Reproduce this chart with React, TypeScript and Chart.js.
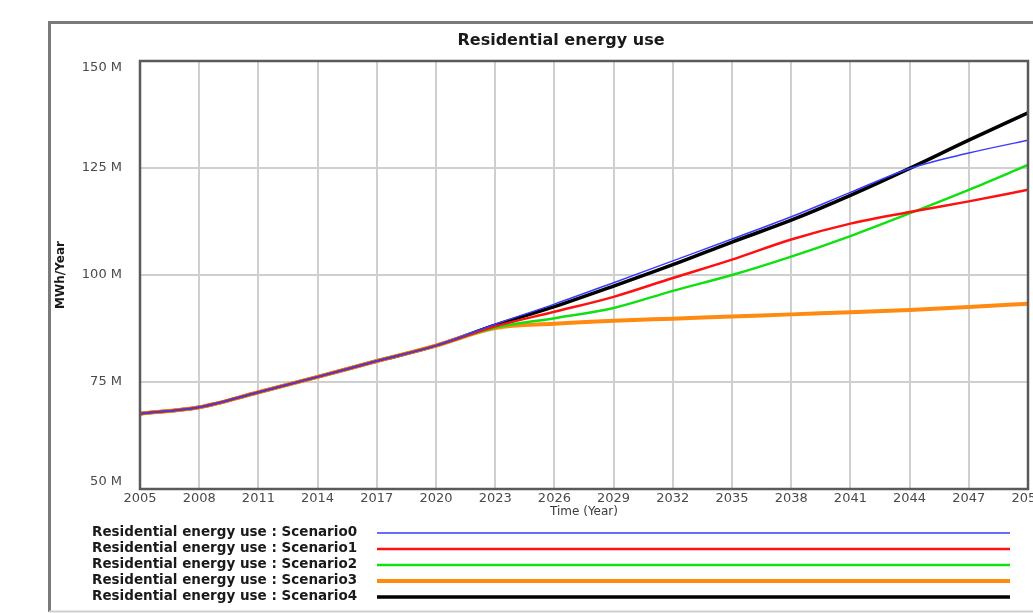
import React, { useEffect, useRef } from "react";
import { Chart, registerables } from "chart.js";

Chart.register(...registerables);

const title = "Residential energy use";
const yAxisTitle = "MWh/Year";
const xAxisTitle = "Time (Year)";
const years = [2005, 2008, 2011, 2014, 2017, 2020, 2023, 2026, 2029, 2032, 2035, 2038, 2041, 2044, 2047, 2050];
const scenario0 = [67.6, 69.1, 72.6, 76.2, 79.9, 83.5, 88.5, 93.2, 98.2, 103.3, 108.4, 113.6, 119.3, 124.9, 128.5, 131.5];
const scenario1 = [67.6, 69.1, 72.6, 76.2, 79.9, 83.5, 88.0, 91.4, 94.9, 99.3, 103.6, 108.3, 112.0, 114.7, 117.2, 119.9];
const scenario2 = [67.6, 69.1, 72.6, 76.2, 79.9, 83.5, 87.7, 89.9, 92.3, 96.3, 100.0, 104.3, 109.1, 114.4, 119.9, 125.7];
const scenario3 = [67.6, 69.1, 72.6, 76.2, 79.9, 83.5, 87.6, 88.6, 89.3, 89.8, 90.3, 90.8, 91.3, 91.8, 92.5, 93.3];
const scenario4 = [67.6, 69.1, 72.6, 76.2, 79.9, 83.5, 88.3, 92.6, 97.4, 102.4, 107.7, 112.8, 118.6, 124.9, 131.5, 137.9];
const seriesLabels = [
  "Residential energy use : Scenario0",
  "Residential energy use : Scenario1",
  "Residential energy use : Scenario2",
  "Residential energy use : Scenario3",
  "Residential energy use : Scenario4",
];
const seriesValues = [scenario0, scenario1, scenario2, scenario3, scenario4];
const seriesColors = ["#3a3aff", "#ff1010", "#10e010", "#ff8a10", "#000000"];
const seriesWidths = [1.5, 2.5, 2.5, 4, 3.5];
const yMin = 50;
const yMax = 150;
const yStep = 25;

const decor = {
  id: "decor",
  beforeDraw(chart: any) {
    const ctx = chart.ctx;
    ctx.save();
    ctx.fillStyle = "#ffffff";
    ctx.fillRect(0, 0, chart.width, chart.height);
    ctx.strokeStyle = "#7a7a7a";
    ctx.lineWidth = 3;
    ctx.beginPath();
    ctx.moveTo(49.5, 612);
    ctx.lineTo(49.5, 22.5);
    ctx.lineTo(1040, 22.5);
    ctx.stroke();
    ctx.strokeStyle = "#d0d0d0";
    ctx.lineWidth = 2;
    ctx.beginPath();
    ctx.moveTo(49, 611.5);
    ctx.lineTo(1040, 611.5);
    ctx.stroke();
    ctx.restore();
    // nudge the end y labels inward, as in the reference
    const ys = chart.scales.y;
    if (ys && !ys.__nudged) {
      const items = ys.getLabelItems(chart.chartArea);
      items.forEach((it: any) => {
        const lab = String(it.label);
        if (lab === yMax + " M") it.options.translation[1] += 7;
        if (lab === yMin + " M") it.options.translation[1] -= 7;
      });
      ys.__nudged = true;
    }
  },
  afterDatasetsDraw(chart: any) {
    const { ctx, chartArea } = chart;
    ctx.save();
    ctx.strokeStyle = "#5a5a5a";
    ctx.lineWidth = 2.5;
    ctx.strokeRect(chartArea.left, chartArea.top, chartArea.right - chartArea.left, chartArea.bottom - chartArea.top);
    ctx.restore();
  },
  afterDraw(chart: any) {
    const ctx = chart.ctx;
    ctx.save();
    ctx.fillStyle = "#1a1a1a";
    ctx.font = "bold 16px 'DejaVu Sans'";
    ctx.textAlign = "center";
    ctx.textBaseline = "middle";
    ctx.fillText(title, 561, 41);
    ctx.font = "bold 13.5px 'DejaVu Sans'";
    ctx.textAlign = "left";
    seriesLabels.forEach((lab, i) => {
      const y = 532.5 + i * 16;
      ctx.fillStyle = "#1a1a1a";
      ctx.fillText(lab, 92, y);
      ctx.strokeStyle = seriesColors[i];
      ctx.lineWidth = seriesWidths[i];
      ctx.beginPath();
      ctx.moveTo(377, y + 0.5);
      ctx.lineTo(1010, y + 0.5);
      ctx.stroke();
    });
    ctx.restore();
  },
};

export default function App() {
  const ref = useRef<HTMLCanvasElement | null>(null);
  useEffect(() => {
    if (!ref.current) return;
    const chart = new Chart(ref.current, {
      type: "line",
      data: {
        datasets: seriesValues.map((vals, i) => ({
          label: seriesLabels[i],
          data: years.map((yr, j) => ({ x: yr, y: vals[j] })),
          borderColor: seriesColors[i],
          backgroundColor: seriesColors[i],
          borderWidth: seriesWidths[i],
          pointRadius: 0,
          cubicInterpolationMode: "monotone" as const,
          fill: false,
        })),
      },
      options: {
        animation: false,
        responsive: false,
        devicePixelRatio: 1,
        layout: { padding: { left: 50, top: 61, right: 5, bottom: 94 } },
        plugins: { legend: { display: false }, title: { display: false }, tooltip: { enabled: false } },
        scales: {
          x: {
            type: "linear",
            min: 2005,
            max: 2050,
            border: { display: false },
            grid: { color: "#cfcfcf", lineWidth: 2, drawTicks: false },
            ticks: {
              stepSize: 3,
              autoSkip: false,
              maxRotation: 0,
              padding: 2,
              color: "#4a4a4a",
              font: { family: "'DejaVu Sans'", size: 13 },
              callback: (v: any) => String(v),
            },
            title: {
              display: true,
              text: xAxisTitle,
              color: "#3a3a3a",
              font: { family: "'DejaVu Sans'", size: 12 },
              padding: { top: 0, bottom: 0 },
            },
            afterFit: (s: any) => {
              s.height = 30;
              s.paddingLeft = 0;
              s.paddingRight = 0;
            },
          },
          y: {
            min: yMin,
            max: yMax,
            border: { display: false },
            grid: { color: "#cfcfcf", lineWidth: 2, drawTicks: false },
            ticks: {
              stepSize: yStep,
              padding: 18,
              color: "#4a4a4a",
              font: { family: "'DejaVu Sans'", size: 13 },
              callback: (v: any) => v + " M",
            },
            title: {
              display: true,
              text: yAxisTitle,
              color: "#1a1a1a",
              font: { family: "'DejaVu Sans'", size: 12, weight: "bold" },
              padding: { top: 4, bottom: 0 },
            },
            afterFit: (s: any) => {
              s.width = 90;
              s.paddingTop = 0;
              s.paddingBottom = 0;
            },
          },
        },
      },
      plugins: [decor],
    });
    return () => chart.destroy();
  }, []);
  return (
    <div style={{ position: "fixed", left: 0, top: 0, width: 1033, height: 613 }}>
      <canvas ref={ref} width={1033} height={613} style={{ display: "block" }} />
    </div>
  );
}
